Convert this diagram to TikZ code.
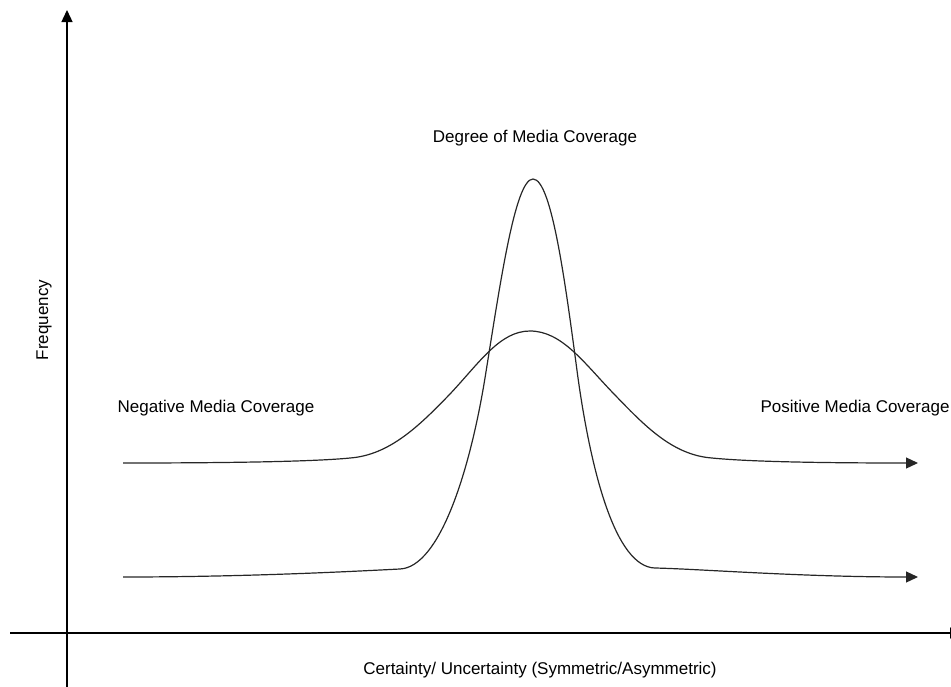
\documentclass[tikz,border=0pt]{standalone}
\usepackage{fontspec}
\setmainfont{Liberation Sans}
\usetikzlibrary{arrows.meta}
\begin{document}
\begin{tikzpicture}[x=1pt,y=-1pt,
  lbl/.style={inner sep=0pt,anchor=base,font=\fontsize{17}{20}\selectfont},
  axisline/.style={line width=1.4pt,black,-{Triangle[length=12pt,width=11pt]}},
  curveline/.style={line width=1.2pt,black!85},
  arrowcurve/.style={curveline,-{Triangle[length=12pt,width=11pt]}}]
\useasboundingbox (0,0) rectangle (951,686);
% axes
\coordinate (yb) at (67,690);
\coordinate (yt) at (67,10);
\coordinate (xl) at (10,633);
\coordinate (xr) at (962,633);
\draw[axisline] (yb) -- (yt);
\draw[axisline] (xl) -- (xr);
% wide curve
\coordinate (w0) at (123,463);
\coordinate (w1) at (350,458);
\coordinate (wpk) at (530,331);
\coordinate (w2) at (712,458);
\coordinate (w3) at (918,463);
\draw[arrowcurve] (w0)
  .. controls (250,463) and (320,461) .. (w1)
  .. controls (390,455) and (420,425) .. (450,394)
  .. controls (480,362) and (500,331) .. (wpk)
  .. controls (562,331) and (584,363) .. (614,394)
  .. controls (644,425) and (672,455) .. (w2)
  .. controls (742,461) and (800,463) .. (w3);
% tall curve
\coordinate (t0) at (123,577);
\coordinate (t1) at (400,569);
\coordinate (tpk) at (533,179);
\coordinate (t2) at (655,568);
\coordinate (t3) at (918,577);
\draw[arrowcurve] (t0)
  .. controls (250,577) and (360,571) .. (t1)
  .. controls (440,567) and (470,470) .. (485,378)
  .. controls (500,285) and (515,179) .. (tpk)
  .. controls (552,179) and (566,288) .. (578,378)
  .. controls (591,470) and (615,567) .. (t2)
  .. controls (700,569) and (800,577) .. (t3);
% labels
\node[lbl] (deg) at (535,142) {Degree of Media Coverage};
\node[lbl] (neg) at (216,412) {Negative Media Coverage};
\node[lbl] (pos) at (855,412) {Positive Media Coverage};
\node[lbl] (cert) at (540,674) {Certainty/ Uncertainty (Symmetric/Asymmetric)};
\node[lbl,rotate=90] (freq) at (48,320) {Frequency};
\end{tikzpicture}
\end{document}
